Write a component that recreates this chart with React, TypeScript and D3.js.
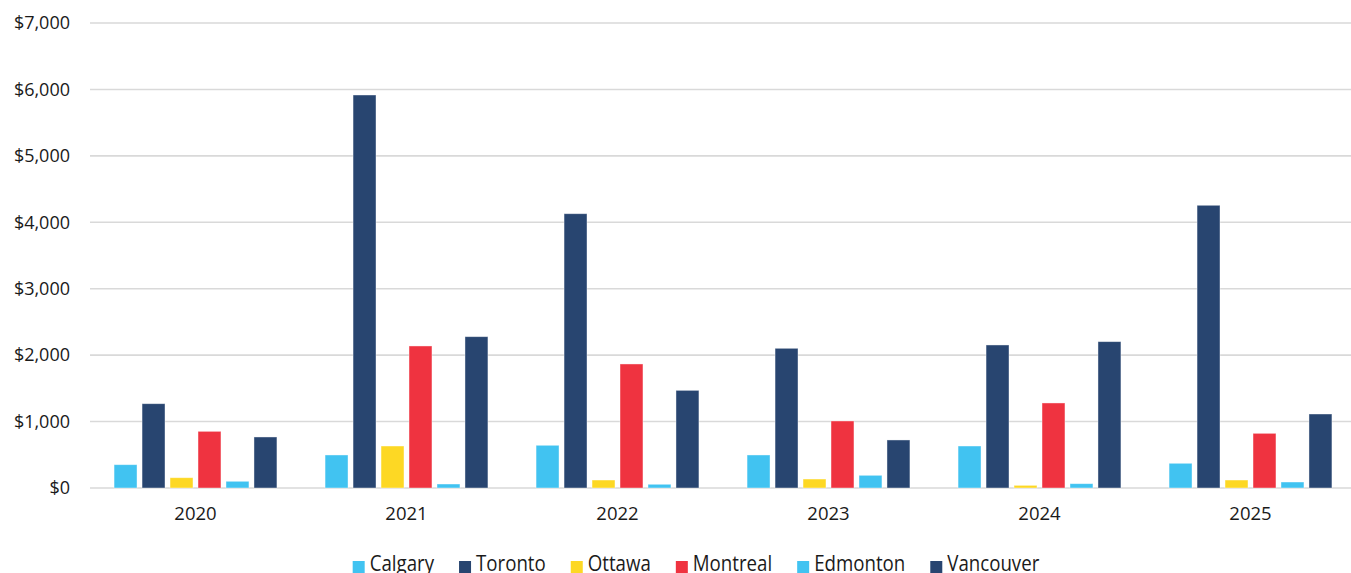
import React, { useLayoutEffect, useRef, useState } from "react";
import * as d3 from "d3";

const years = ["2020", "2021", "2022", "2023", "2024", "2025"];
const cities = ["Calgary", "Toronto", "Ottawa", "Montreal", "Edmonton", "Vancouver"];
const calgary = [351, 497, 643, 497, 632, 372];
const toronto = [1269, 5916, 4129, 2103, 2153, 4256];
const ottawa = [155, 632, 120, 135, 40, 120];
const montreal = [853, 2138, 1867, 1009, 1280, 823];
const edmonton = [101, 60, 56, 191, 65, 90];
const vancouver = [768, 2278, 1470, 723, 2203, 1114];
const yTicks = [0, 1000, 2000, 3000, 4000, 5000, 6000, 7000];
const colors = ["#41C3F1", "#284570", "#FDD824", "#EF3340", "#41C3F1", "#284570"];

const seriesValues = [calgary, toronto, ottawa, montreal, edmonton, vancouver];

const W = 1351;
const H = 573;
const FONT = "'Open Sans', 'Noto Sans', sans-serif";
const LEGEND_SCALE = 0.89;

export default function App() {
  const x0 = d3.scaleBand<string>().domain(years).range([90, 1356]).paddingInner(0).paddingOuter(0);
  const x1 = d3
    .scaleBand<string>()
    .domain(cities)
    .range([0, x0.bandwidth()])
    .paddingInner(0.18)
    .paddingOuter(0.86);
  const y = d3.scaleLinear().domain([0, 7000]).range([488, 23]);
  const fmt = (v: number) => "$" + d3.format(",")(v);

  const textRefs = useRef<(SVGTextElement | null)[]>([]);
  const [tw, setTw] = useState<number[]>(cities.map((c) => c.length * 9));
  useLayoutEffect(() => {
    const m = textRefs.current.map((el, i) =>
      el ? el.getComputedTextLength() * LEGEND_SCALE : tw[i]
    );
    setTw(m);
    // eslint-disable-next-line
  }, []);

  const sq = 12;
  const gapSqText = 5;
  const itemGap = 25;
  const widths = cities.map((c, i) => sq + gapSqText + tw[i]);
  const total = widths.reduce((a, b) => a + b, 0) + itemGap * (cities.length - 1);
  let lx = 696 - total / 2;
  const legendItems = cities.map((c, i) => {
    const item = { c, i, x: lx };
    lx += widths[i] + itemGap;
    return item;
  });

  return (
    <svg
      width={W}
      height={H}
      style={{ position: "absolute", left: 0, top: 0, background: "#fff" }}
      fontFamily={FONT}
    >
      {yTicks.map((t) => (
        <g key={t}>
          <line x1={90} x2={W} y1={y(t)} y2={y(t)} stroke="#D9D9D9" strokeWidth={1.6} />
          <text x={70} y={y(t)} dy="0.35em" textAnchor="end" fontSize={18} fill="#1a1a1a">
            {fmt(t)}
          </text>
        </g>
      ))}
      {years.map((yr, yi) => (
        <g key={yr} transform={`translate(${x0(yr)},0)`}>
          {cities.map((c, ci) => {
            const v = seriesValues[ci][yi];
            return (
              <rect
                key={c}
                x={x1(c)}
                width={x1.bandwidth()}
                y={y(v)}
                height={y(0) - y(v)}
                fill={colors[ci]}
                stroke="#fff"
                strokeOpacity={0.5}
                strokeWidth={0.8}
              />
            );
          })}
          <text
            x={x0.bandwidth() / 2}
            y={514}
            dy="0.35em"
            textAnchor="middle"
            fontSize={18.5}
            fill="#1a1a1a"
          >
            {yr}
          </text>
        </g>
      ))}
      {legendItems.map((it) => (
        <g key={it.i} transform={`translate(${it.x},0)`}>
          <rect x={0} y={561} width={sq} height={sq} fill={colors[it.i]} />
          <g transform={`translate(${sq + gapSqText},571) scale(${LEGEND_SCALE},1)`}>
            <text
              ref={(el) => {
                textRefs.current[it.i] = el;
              }}
              x={0}
              y={0}
              fontSize={21}
              fill="#1a1a1a"
            >
              {it.c}
            </text>
          </g>
        </g>
      ))}
    </svg>
  );
}
